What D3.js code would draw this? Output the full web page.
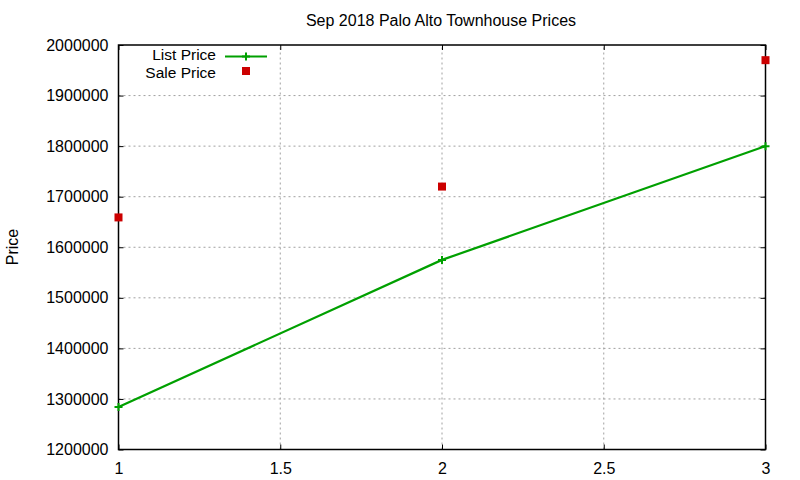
<!DOCTYPE html>
<html>
<head>
<meta charset="utf-8">
<script src="https://cdn.jsdelivr.net/npm/d3@7"></script>
<style>
  body { margin: 0; background: #fff; }
  svg { font-family: "Liberation Sans", Arial, sans-serif; }
  .grid line { stroke: #a0a0a0; stroke-width: 1; stroke-dasharray: 2,3; }
</style>
</head>
<body>
<div id="container"></div>
<script>
const width = 800, height = 480;
const margin = {left: 118.5, right: 34.5, top: 45, bottom: 30.5};

// data
const months = [1, 2, 3];
const listPrice = [1284000, 1575000, 1800000];
const salePrice = [1659000, 1720000, 1970000];
const xTicks = [1, 1.5, 2, 2.5, 3];
const yTicks = [1200000, 1300000, 1400000, 1500000, 1600000, 1700000, 1800000, 1900000, 2000000];

const green = '#00a000', red = '#cc0000';

const svg = d3.select('#container').append('svg')
    .attr('width', width)
    .attr('height', height);

const x = d3.scaleLinear([1, 3], [margin.left, width - margin.right]);
const y = d3.scaleLinear([1200000, 2000000], [height - margin.bottom, margin.top]);

// grid
const grid = svg.append('g').classed('grid', true);
grid.selectAll('line.gx')
    .data(xTicks.slice(1, -1))
    .join('line')
        .attr('x1', d => x(d)).attr('x2', d => x(d))
        .attr('y1', y.range()[0]).attr('y2', y.range()[1]);
grid.selectAll('line.gy')
    .data(yTicks.slice(1, -1))
    .join('line')
        .attr('class', 'gy')
        .attr('y1', d => y(d)).attr('y2', d => y(d))
        .attr('x1', x.range()[0]).attr('x2', x.range()[1]);

// axes, gnuplot style: inward ticks mirrored on all sides
const fmt = d3.format('d');
const styleAxis = g => {
    g.select('.domain').remove();
    g.selectAll('.tick line').attr('stroke', '#000');
    g.selectAll('.tick text').attr('fill', '#000').style('font-size', '16px').style('font-family', null);
};
svg.append('g')
    .attr('transform', `translate(0,${y.range()[0]})`)
    .call(d3.axisBottom(x).tickValues(xTicks).tickSize(-5).tickPadding(13).tickFormat(d3.format('')))
    .call(styleAxis);
svg.append('g')
    .attr('transform', `translate(0,${y.range()[1]})`)
    .call(d3.axisTop(x).tickValues(xTicks).tickSize(-5).tickFormat(''))
    .call(styleAxis);
svg.append('g')
    .attr('transform', `translate(${x.range()[0]},0)`)
    .call(d3.axisLeft(y).tickValues(yTicks).tickSize(-5).tickPadding(10).tickFormat(fmt))
    .call(styleAxis);
svg.append('g')
    .attr('transform', `translate(${x.range()[1]},0)`)
    .call(d3.axisRight(y).tickValues(yTicks).tickSize(-5).tickFormat(''))
    .call(styleAxis);

svg.append('rect')
    .attr('x', x.range()[0]).attr('y', y.range()[1])
    .attr('width', x.range()[1] - x.range()[0])
    .attr('height', y.range()[0] - y.range()[1])
    .attr('fill', 'none').attr('stroke', '#000').attr('stroke-width', 1.5);

// list price line with plus markers
const line = d3.line().x((d, i) => x(months[i])).y(d => y(d));
svg.append('path')
    .datum(listPrice)
    .attr('d', line)
    .attr('fill', 'none')
    .attr('stroke', green)
    .attr('stroke-width', 2.2);

const plus = (sel, s) => sel.attr('d', `M${-s},0H${s}M0,${-s}V${s}`)
    .attr('stroke', green).attr('stroke-width', 2).attr('fill', 'none');

svg.append('g').selectAll('path')
    .data(listPrice)
    .join('path')
        .attr('transform', (d, i) => `translate(${x(months[i])},${y(d)})`)
        .call(plus, 4);

// sale price squares
svg.append('g').selectAll('rect')
    .data(salePrice)
    .join('rect')
        .attr('x', (d, i) => x(months[i]) - 4)
        .attr('y', d => y(d) - 4)
        .attr('width', 8).attr('height', 8)
        .attr('fill', red);

// title and axis label
svg.append('text')
    .attr('x', 441).attr('y', 26)
    .attr('text-anchor', 'middle')
    .style('font-size', '16px')
    .text('Sep 2018 Palo Alto Townhouse Prices');

svg.append('text')
    .attr('transform', 'translate(18,247) rotate(-90)')
    .attr('text-anchor', 'middle')
    .style('font-size', '16px')
    .text('Price');

// legend
const legend = svg.append('g');
legend.append('text')
    .attr('x', 216).attr('y', 60)
    .attr('text-anchor', 'end')
    .style('font-size', '15.5px')
    .text('List Price');
legend.append('line')
    .attr('x1', 225).attr('x2', 267).attr('y1', 56.5).attr('y2', 56.5)
    .attr('stroke', green).attr('stroke-width', 2);
legend.append('path')
    .attr('transform', 'translate(246,56.5)')
    .call(plus, 4);
legend.append('text')
    .attr('x', 216).attr('y', 77.5)
    .attr('text-anchor', 'end')
    .style('font-size', '15.5px')
    .text('Sale Price');
legend.append('rect')
    .attr('x', 242).attr('y', 67).attr('width', 8).attr('height', 8)
    .attr('fill', red);
</script>
</body>
</html>
